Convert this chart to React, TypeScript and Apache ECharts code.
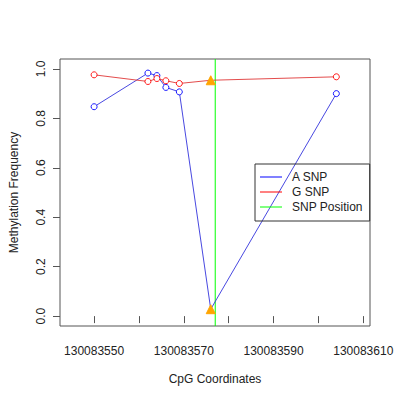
import React, { useEffect, useRef } from 'react';
import * as echarts from 'echarts';

// CpG positions and methylation frequencies
const cpgPositions = [130083550, 130083562, 130083564, 130083566, 130083569, 130083576, 130083604];
const aSnpValues = [0.847, 0.983, 0.973, 0.925, 0.907, 0.028, 0.9];
const gSnpValues = [0.976, 0.949, 0.961, 0.952, 0.941, 0.954, 0.968];
const snpPointIndex = 5;
const snpPosition = 130083577;

const xTicks = [130083550, 130083560, 130083570, 130083580, 130083590, 130083600, 130083610];
const xTickLabels = [130083550, 130083570, 130083590, 130083610];
const yTicks = [0, 0.2, 0.4, 0.6, 0.8, 1.0];
const yMin = -0.04;
const yMax = 1.04;

const FONT = '"Liberation Sans", Arial, Helvetica, sans-serif';
const TEXT = '#222';
const AXIS = '#555';
const BLUE = '#0000ff';
const RED = '#ff0000';
const GREEN = '#00ff00';

const buildSeriesData = (values: number[]) =>
  cpgPositions.map((x, i) =>
    i === snpPointIndex
      ? {
          value: [x, values[i]],
          symbol: 'triangle',
          symbolSize: 9,
          itemStyle: { color: '#ffa500', borderColor: '#ffa500', borderWidth: 1 }
        }
      : { value: [x, values[i]] }
  );

const legendItem = (name: string, color: string) => ({
  name,
  icon: 'path://M0,0H22V1H0Z',
  itemStyle: { color, borderWidth: 0 },
  lineStyle: { width: 0 }
});

const App: React.FC = () => {
  const chartRef = useRef<HTMLDivElement>(null);

  useEffect(() => {
    if (!chartRef.current) return;
    const chart = echarts.init(chartRef.current, undefined, { renderer: 'svg' });

    const option = {
      animation: false,
      textStyle: { fontFamily: FONT, color: TEXT },
      grid: {
        left: 59,
        right: 30,
        top: 59,
        bottom: 74,
        show: true,
        borderColor: AXIS,
        borderWidth: 1,
        backgroundColor: 'transparent'
      },
      legend: {
        orient: 'vertical',
        left: 255,
        top: 164,
        padding: [6, 7, 7, 5],
        itemGap: 1,
        itemWidth: 22,
        itemHeight: 1,
        borderColor: '#333',
        borderWidth: 1,
        borderRadius: 0,
        textStyle: { fontFamily: FONT, fontSize: 12, color: TEXT, lineHeight: 14, padding: [0, 0, 0, 5] },
        data: [legendItem('A SNP', BLUE), legendItem('G SNP', RED), legendItem('SNP Position', GREEN)]
      },
      xAxis: {
        type: 'value',
        min: 130083542.4,
        max: 130083611.5,
        name: 'CpG Coordinates',
        nameLocation: 'middle',
        nameGap: 47,
        nameTextStyle: { fontFamily: FONT, fontSize: 12, color: TEXT },
        axisLine: { show: false },
        axisPointer: { show: false },
        splitLine: { show: false },
        axisTick: { show: true, customValues: xTicks, length: 7, lineStyle: { color: AXIS } },
        axisLabel: {
          customValues: xTickLabels,
          formatter: (v: number) => String(Math.round(v)),
          fontSize: 12,
          fontFamily: FONT,
          color: TEXT,
          margin: 19
        }
      },
      yAxis: {
        type: 'value',
        min: yMin,
        max: yMax,
        name: 'Methylation Frequency',
        nameLocation: 'middle',
        nameGap: 40,
        nameTextStyle: { fontFamily: FONT, fontSize: 12, color: TEXT },
        axisLine: { show: false },
        splitLine: { show: false },
        axisTick: { show: true, customValues: yTicks, length: 7, lineStyle: { color: AXIS } },
        axisLabel: {
          customValues: yTicks,
          formatter: (v: number) => v.toFixed(1),
          rotate: 90,
          fontSize: 12,
          fontFamily: FONT,
          color: TEXT,
          margin: 13
        }
      },
      series: [
        {
          name: 'SNP Position',
          type: 'line',
          color: GREEN,
          data: [
            [snpPosition, yMin],
            [snpPosition, yMax]
          ],
          symbol: 'none',
          lineStyle: { color: GREEN, width: 1 },
          z: 2
        },
        {
          name: 'A SNP',
          type: 'line',
          color: BLUE,
          data: buildSeriesData(aSnpValues),
          symbol: 'circle',
          symbolSize: 6,
          lineStyle: { color: '#3333dd', width: 0.9 },
          itemStyle: { color: '#ffffff', borderColor: BLUE, borderWidth: 0.9 },
          z: 3
        },
        {
          name: 'G SNP',
          type: 'line',
          color: RED,
          data: buildSeriesData(gSnpValues),
          symbol: 'circle',
          symbolSize: 6,
          lineStyle: { color: '#e03838', width: 0.9 },
          itemStyle: { color: '#ffffff', borderColor: RED, borderWidth: 0.9 },
          z: 3
        }
      ]
    };

    chart.setOption(option);

    return () => {
      chart.dispose();
    };
  }, []);

  return (
    <div
      ref={chartRef}
      style={{ position: 'fixed', left: 0, top: 0, width: 400, height: 400, background: '#fff' }}
    />
  );
};

export default App;
